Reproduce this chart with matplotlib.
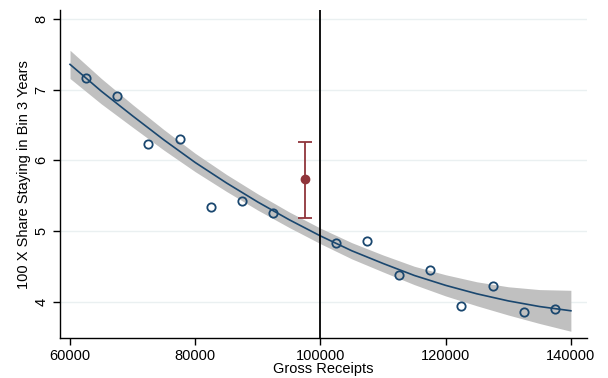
import matplotlib
matplotlib.use("Agg")
import matplotlib.pyplot as plt

plt.rcParams['font.family'] = ['Liberation Sans', 'DejaVu Sans']

# binned means (hollow circles)
bin_x = [62500, 67500, 72500, 77500, 82500, 87500, 92500, 102500,
         107500, 112500, 117500, 122500, 127500, 132500, 137500]
bin_y = [7.17, 6.91, 6.23, 6.31, 5.34, 5.43, 5.26, 4.83,
         4.86, 4.38, 4.45, 3.94, 4.22, 3.85, 3.89]

# notch bin with its interval
notch_x = [97500]
notch_y = [5.74]
notch_lo = [5.19]
notch_hi = [6.26]

# quadratic fit and its confidence band
fit_x = [60000, 65000, 70000, 75000, 80000, 85000, 90000, 95000, 100000,
         105000, 110000, 115000, 120000, 125000, 130000, 135000, 140000]
fit_y = [7.36, 6.98, 6.63, 6.29, 5.97, 5.68, 5.41, 5.16, 4.93,
         4.72, 4.54, 4.37, 4.23, 4.11, 4.01, 3.93, 3.87]
fit_lo = [7.16, 6.80, 6.47, 6.145, 5.84, 5.56, 5.295, 5.05, 4.82,
          4.605, 4.42, 4.24, 4.08, 3.94, 3.81, 3.69, 3.58]
fit_hi = [7.56, 7.16, 6.79, 6.435, 6.10, 5.80, 5.525, 5.27, 5.04,
          4.835, 4.66, 4.50, 4.38, 4.28, 4.21, 4.17, 4.16]

cutoff = 100000

NAVY = '#1a476f'
MAROON = '#90353b'

fig = plt.figure(figsize=(6.08, 3.78), dpi=100)
ax = fig.add_axes([0.0992, 0.105, 0.866, 0.8685])

ax.fill_between(fit_x, fit_lo, fit_hi, color='#c0c0c0', linewidth=0, zorder=1)
ax.plot(fit_x, fit_y, color=NAVY, linewidth=1.2, zorder=2)
ax.plot(bin_x, bin_y, 'o', markerfacecolor='none', markeredgecolor=NAVY,
        markersize=6, markeredgewidth=1.3, zorder=3)

err_lo = [y - lo for y, lo in zip(notch_y, notch_lo)]
err_hi = [hi - y for y, hi in zip(notch_y, notch_hi)]
ax.errorbar(notch_x, notch_y, yerr=[err_lo, err_hi], fmt='o', color=MAROON,
            markersize=6, elinewidth=1.3, capsize=5, capthick=1.3, zorder=3)

ax.axvline(cutoff, color='black', linewidth=1.3, zorder=2)

ax.set_xlim(58450, 142550)
ax.set_ylim(3.48, 8.13)
ax.set_xticks([60000, 80000, 100000, 120000, 140000])
ax.set_yticks([4, 5, 6, 7, 8])
ax.set_yticklabels(['4', '5', '6', '7', '8'], rotation=90, va='center')
ax.grid(axis='y', color='#eaf0f1', linewidth=1)
ax.set_axisbelow(True)

for side in ['top', 'right']:
    ax.spines[side].set_visible(False)
for side in ['left', 'bottom']:
    ax.spines[side].set_linewidth(1.0)
ax.tick_params(direction='out', length=5, width=1, labelsize=10.5)
ax.tick_params(axis='x', pad=2.5)

ax.set_xlabel('Gross Receipts', fontsize=10.5, labelpad=-0.5)
ax.set_ylabel('100 X Share Staying in Bin 3 Years', fontsize=10.5, labelpad=2.5)

fig.savefig('out.png', dpi=100)
